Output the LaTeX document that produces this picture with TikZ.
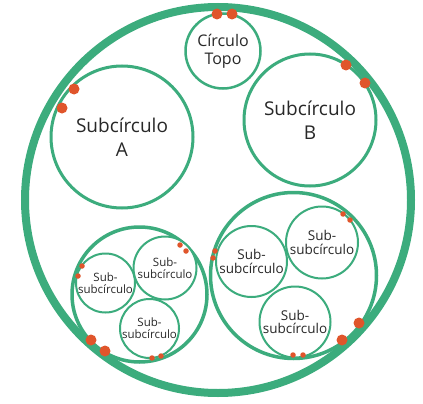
\documentclass[tikz,border=0pt]{standalone}
\usepackage{fontspec}
\setmainfont{Open Sans}
\definecolor{ring}{RGB}{60,172,125}
\definecolor{dot}{RGB}{224,85,43}
\definecolor{txt}{RGB}{40,40,40}
\begin{document}
\begin{tikzpicture}[x=1pt,y=-1pt,
  circ/.style={circle,draw=ring,fill=white,inner sep=0pt,align=center,text=txt},
  big/.style={circ,line width=3pt,font=\fontsize{19}{24.5}\selectfont},
  topo/.style={circ,line width=2.5pt,font=\fontsize{16}{18}\selectfont},
  grp/.style={circ,line width=3.5pt},
  ssl/.style={circ,line width=2pt,font=\fontsize{11.5}{12}\selectfont},
  ssr/.style={circ,line width=2pt,font=\fontsize{13.5}{13.5}\selectfont},
  bdot/.style={circle,fill=dot,inner sep=0pt,minimum size=11pt},
  sdot/.style={circle,fill=dot,inner sep=0pt,minimum size=5.5pt}]
\useasboundingbox (0,0) rectangle (423,404);
\node[circ,line width=8pt,minimum size=386pt] (outer) at (218,200) {};
\node[topo,minimum size=75pt] (topo) at (223,51) {Círculo\\Topo};
\node[big,minimum size=142pt] (A) at (122,137) {Subcírculo\\A};
\node[big,minimum size=132pt] (B) at (310,120) {Subcírculo\\B};
\node[grp,minimum size=135pt] (GL) at (139.5,294.5) {};
\node[grp,minimum size=166pt] (GR) at (293.5,275.5) {};
\node[ssl,minimum size=59pt] (L1) at (105.5,283) {Sub-\\subcírculo};
\node[ssl,minimum size=63pt] (L2) at (165,268) {Sub-\\subcírculo};
\node[ssl,minimum size=59pt] (L3) at (149.5,328.5) {Sub-\\subcírculo};
\node[ssr,minimum size=71pt] (R1) at (251.5,261.5) {Sub-\\subcírculo};
\node[ssr,minimum size=72pt] (R2) at (322,242.5) {Sub-\\subcírculo};
\node[ssr,minimum size=71pt] (R3) at (295,322) {Sub-\\subcírculo};
% big dots on the outer ring
\node[bdot] (d1) at (217,14) {};
\node[bdot] (d2) at (232,14) {};
\node[bdot] (d3) at (346,65) {};
\node[bdot] (d4) at (365,83) {};
\node[bdot] (d5) at (74,89) {};
\node[bdot] (d6) at (62,108) {};
\node[bdot] (d7) at (91,340) {};
\node[bdot] (d8) at (105,351) {};
\node[bdot] (d9) at (342,340) {};
\node[bdot] (d10) at (359,323) {};
% small dots
\node[sdot] (s1) at (180,245) {};
\node[sdot] (s2) at (186,251) {};
\node[sdot] (s3) at (82,266) {};
\node[sdot] (s4) at (78,276) {};
\node[sdot] (s5) at (152,358) {};
\node[sdot] (s6) at (161,356) {};
\node[sdot] (s7) at (343,214) {};
\node[sdot] (s8) at (350,220) {};
\node[sdot] (s9) at (215,251) {};
\node[sdot] (s10) at (213,258) {};
\node[sdot] (s11) at (293,355) {};
\node[sdot] (s12) at (303,355) {};
\end{tikzpicture}
\end{document}
